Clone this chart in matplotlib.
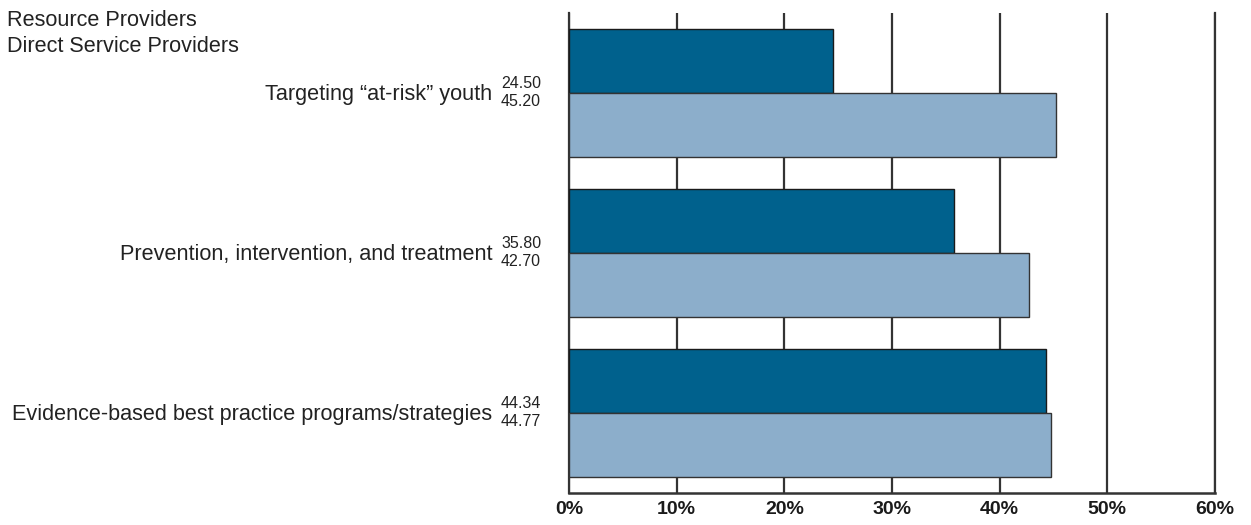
import numpy as np
import matplotlib.pyplot as plt

# datos del gráfico
categorias = [
    "Targeting \u201cat-risk\u201d youth",
    "Prevention, intervention, and treatment",
    "Evidence-based best practice programs/strategies",
]
resource_providers = [24.50, 35.80, 44.34]
direct_service = [45.20, 42.70, 44.77]
series = ["Resource Providers", "Direct Service Providers"]
ticks_x = [0, 10, 20, 30, 40, 50, 60]

color_oscuro = "#00618d"
color_claro = "#8caecb"
color_linea = "#333333"
fuente = "Liberation Sans"

fig = plt.figure(figsize=(12.51, 5.25), dpi=100)
ax = fig.add_axes([569 / 1251, 32 / 525, 646 / 1251, 480 / 525])

y = np.arange(len(categorias))
alto = 0.4
ax.barh(y - alto / 2, resource_providers, height=alto, color=color_oscuro,
        edgecolor="#1a1a1a", linewidth=1, zorder=3)
ax.barh(y + alto / 2, direct_service, height=alto, color=color_claro,
        edgecolor="#333333", linewidth=1, zorder=3)

ax.set_xlim(0, 60)
ax.set_ylim(len(categorias) - 0.5, -0.5)
ax.set_xticks(ticks_x)
ax.set_xticklabels([f"{t}%" for t in ticks_x], fontfamily=fuente,
                   fontweight="bold", fontsize=14, color="#1a1a1a")
ax.set_yticks([])
ax.tick_params(axis="x", length=0, pad=6)

# líneas verticales de la cuadrícula
ax.grid(axis="x", color=color_linea, linewidth=1.6)
ax.set_axisbelow(True)
ax.spines["top"].set_visible(False)
for lado in ["left", "right"]:
    ax.spines[lado].set_color(color_linea)
    ax.spines[lado].set_linewidth(1.6)
ax.spines["bottom"].set_color(color_linea)
ax.spines["bottom"].set_linewidth(1.8)

# etiquetas de categoría y valores a la izquierda
for i, cat in enumerate(categorias):
    ax.annotate(cat, xy=(0, i), xycoords=("axes fraction", "data"),
                xytext=(-77, -1), textcoords="offset pixels",
                ha="right", va="center", fontsize=15.6,
                fontfamily=fuente, color="#222222")
    ax.annotate(f"{resource_providers[i]:.2f}", xy=(0, i), xycoords=("axes fraction", "data"),
                xytext=(-68, 10), textcoords="offset pixels",
                ha="left", va="center", fontsize=11.5,
                fontfamily=fuente, color="#222222")
    ax.annotate(f"{direct_service[i]:.2f}", xy=(0, i), xycoords=("axes fraction", "data"),
                xytext=(-68, -8), textcoords="offset pixels",
                ha="left", va="center", fontsize=11.5,
                fontfamily=fuente, color="#222222")

# leyenda solo de texto arriba a la izquierda
fig.text(7 / 1251, 1 - 21 / 525, series[0], ha="left", va="center",
         fontsize=15.6, fontfamily=fuente, color="#222222")
fig.text(7 / 1251, 1 - 46 / 525, series[1], ha="left", va="center",
         fontsize=15.6, fontfamily=fuente, color="#222222")

plt.savefig("out.png", dpi=100)
